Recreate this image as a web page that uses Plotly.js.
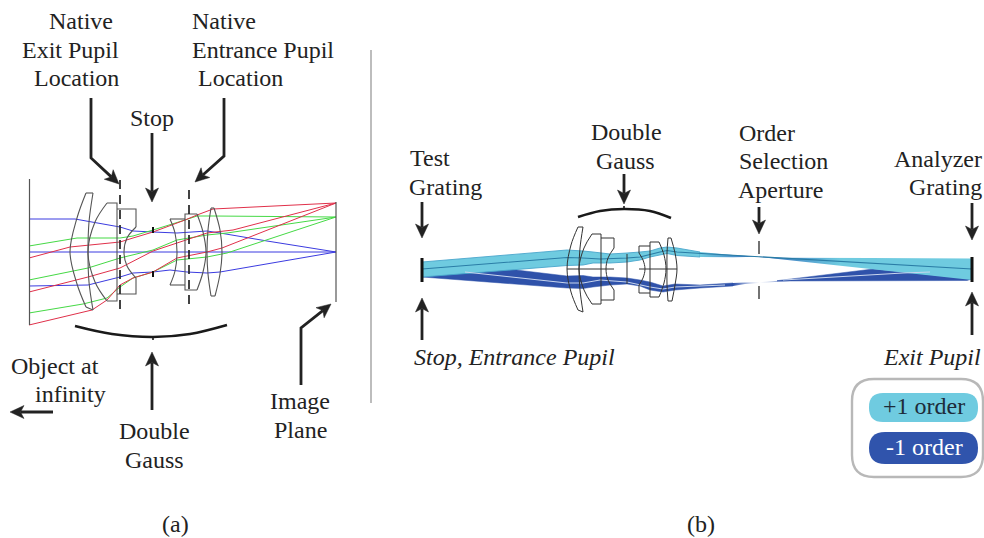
<!DOCTYPE html>
<html><head><meta charset="utf-8">
<script src="https://cdn.plot.ly/plotly-3.0.1.min.js"></script>
<style>html,body{margin:0;padding:0;background:#fff}#c{width:984px;height:538px}</style>
</head><body><div id="c"></div>
<script>
// ---- panel (a): rays, [x...],[y...]
const raysBlue = [
 [[29,75,120,133,153,177,207,220,267,336],[219,219,227,231,232,233,231,233,241,252]],
 [[29,336],[252,252]],
 [[29,88,120,133,153,170,187,207,220,336],[286,285,277,273,272,270,272,273,272,252]]
];
const raysGreen = [
 [[29,77,120,133,153,185,197,213,336],[246,238,238,236,230,220,216,216,217]],
 [[29,88,120,153,177,207,227,336],[280,268,258,250,240,235,233,217]],
 [[29,83,107,120,133,153,177,207,227,336],[313,304,298,287,278,272,260,257,253,217]]
];
const raysRed = [
 [[29,70,120,133,153,185,197,213,336],[258,247,242,238,232,220,215,209,203]],
 [[29,88,120,153,177,207,233,336],[292,277,268,251,243,233,230,203]],
 [[29,92,107,120,133,153,177,207,222,336],[325,310,300,285,278,272,258,252,248,203]]
];
const lensCurvesA = [
 [[86,77,70,77,86],[193,218,252,284,307]],
 [[93,89,88,89,93],[193,222,252,282,310]],
 [[107,95,88,95,107],[203,222,252,282,301]],
 [[136,127,124,127,136],[227,238,252,266,278]],
 [[170,175,177,175,170],[219,233,252,271,285]],
 [[197,203,206,203,197],[214,232,252,272,290]],
 [[211,208,207,208,211],[208,230,252,274,296]],
 [[214,220,222,220,215],[208,230,252,274,296]]
];
const lensEdgesA = [
 [[86,93],[193,193]],
 [[86,93],[307,310]],
 [[107,117,117,107],[203,203,301,301]],
 [[117,136,136],[209,209,227]],
 [[136,136,117],[278,294,294]],
 [[170,185],[219,219]],
 [[170,185],[285,285]],
 [[197,185,185,197],[214,214,290,290]],
 [[211,214],[208,208]],
 [[211,215],[296,296]]
];
const planesA = [ [[29.5,29.5],[179,325]], [[336,336],[202,302]] ];
const stopMarksA = [ [[153,153],[227,233]], [[153,153],[271,277]] ];
const dashedA = [ [[120,120],[180,310]], [[189,189],[190,310]] ];

// ---- panel (b): beam outlines
const beamDark = [
 [422,465,508,567,583,593,610,627,640,650,663,675,700,733,733,700,675,663,650,640,627,610,593,583,567,422],
 [277,272,269,276,275.5,277,277,278,280,282,286,284,285,283,286,288,290,292,290,286,284,285,287,288.5,288,277]
];
const beamDarkFade = [
 [733,745,759,775,790,790,775,759,745,733],
 [283,282.5,282.3,281,280,281,282,283,284,286]
];
const beamDarkRight = [[777,873,972,967,777],[280.7,269,279,280.5,281]];
const beamLight = [
 [422,567,583,593,610,627,640,650,660,667,677,700,700,677,667,650,640,627,610,593,583,567,422],
 [262,250,251,252,254,253,252,251,248,247,248,252,257,255.5,253.5,257,260,262,263,263,265,265.5,277]
];
const beamLightTail = [[700,733,759,733,700],[252,255,256.7,257.3,257]];
const beamLightRight = [[759,783,870,972,972,759],[256.7,257.7,258,258.5,280,256.9]];
const lineCenterLight = [
 [422,567,583,600,627,640,660,667,677,710,759,972],
 [269,257.5,258,259,258,257,252,250.5,252,254,256.7,269]
];
const lineCenterDark = [
 [465,567,583,600,627,650,663,675,700,725],
 [272,283,283,280,282,287,289,287,286,285]
];
const lineCenterDarkRight = [[783,903,930],[280,273,272]];
const lensCurvesB = [
 [[578,571,567,571,578],[227,245,269,292,310]],
 [[583,580,579,580,583],[227,248,269,290,312]],
 [[592,584,579,584,592],[234,248,269,290,304]],
 [[614,608,606,608,614],[248,258,269,280,290]],
 [[639,643,645,643,639],[253,260,269,278,285]],
 [[659,664,666,664,659],[242,255,269,283,297]],
 [[668,667,667,667,668],[238,253,269,285,301]],
 [[671,675,677,675,672],[238,253,269,285,301]]
];
const lensEdgesB = [
 [[578,583],[227,227]],
 [[578,583],[310,312]],
 [[592,601,601,592],[234,234,304,304]],
 [[601,614,614],[238,238,248]],
 [[614,614,601],[290,300,300]],
 [[639,650],[246,246]],
 [[639,639],[246,253]],
 [[639,639,650],[285,293,293]],
 [[659,650,650,659],[242,242,297,297]],
 [[668,671],[238,238]],
 [[668,672],[301,301]],
 [[567,614],[269,269]],
 [[639,677],[269,269]],
 [[627,627],[254,284]]
];
const gratings = [ [[422,422],[258,282]], [[972,972],[257,282]] ];
const apertureDashes = [ [[759,759],[241,254]], [[759,759],[286,299]] ];
const divider = [[371,371],[50,403]];

// ---- braces and arrows
const braces = [
 [[75,112,153,190,227],[326,334,337,334,325]],
 [[578,600,624,650,671],[217,211,209,211,218]]
];
const braceTips = [ [[153,153],[337,340]], [[624,624],[209,206]] ];
const arrowPaths = [
 [[91,91,119],[98,158,184]],
 [[224,224,195],[98,156,182]],
 [[152,152],[133,202]],
 [[152,152],[410,352]],
 [[301,301,331],[385,328,304]],
 [[53,10],[412,412]],
 [[422,422],[202,238]],
 [[422,422],[340,298]],
 [[624,624],[174,204]],
 [[759,759],[207,234]],
 [[972,972],[203,240]],
 [[972,972],[335,292]]
];

// ---- text
const labelText = ["Native","Exit Pupil","Location","Stop","Native","Entrance Pupil","Location",
 "Object at","infinity","Double","Gauss","Image","Plane","(a)",
 "Test","Grating","Double","Gauss","Order","Selection","Aperture","Analyzer","Grating","(b)"];
const labelX = [81,70,76,152,224,263,240,55,70,154,154,300,300,175,
 430,445,626,625,767,783,780,938,945,701];
const labelY = [21,50,78,118,21,50,78,366,394,431,460,401,430,524,
 158,187,132,161,133,161,190,159,187,524];
const italicText = ["Stop, Entrance Pupil","Exit Pupil"];
const italicX = [514,932];
const italicY = [357,357];
const legendText = ["+1 order","-1 order"];
const legendX = [924,924];
const legendY = [406,447];

const colLight="#6fcbe0", colDark="#2f52aa", colLine="#2a7da6", colEdge="#4aa6cc", colTip="#2f66b8";
const FONT="Liberation Serif";
const traces=[];
function ln(p,color,width,extra){
  const l=Object.assign({color:color,width:width,simplify:false},extra||{});
  traces.push({type:"scatter",mode:"lines",x:p[0],y:p[1],line:l,hoverinfo:"skip",showlegend:false});
}
function fill(p,color,edge,grad){
  const t={type:"scatter",mode:"lines",x:p[0],y:p[1],fill:"toself",fillcolor:color,
    line:{color:edge||color,width:edge?0.9:0.5,simplify:false},hoverinfo:"skip",showlegend:false};
  if(grad) t.fillgradient=grad;
  traces.push(t);
}
ln(divider,"#bdbdbd",2);
raysBlue.forEach(p=>ln(p,"#3b3be0",1));
raysGreen.forEach(p=>ln(p,"#45d945",1));
raysRed.forEach(p=>ln(p,"#e0304a",1));
planesA.forEach(p=>ln(p,"#555",1.2));
lensCurvesA.forEach(p=>ln(p,"#555",1.1,{shape:"spline"}));
lensEdgesA.forEach(p=>ln(p,"#555",1.1));
stopMarksA.forEach(p=>ln(p,"#111",2));
dashedA.forEach(p=>ln(p,"#222",1.7,{dash:"9px,6px"}));

fill(beamDark,colDark);
fill(beamDarkFade,colDark,"rgba(0,0,0,0)",{type:"horizontal",start:733,stop:790,
    colorscale:[[0,colDark],[0.3,"#b9c6e6"],[0.47,"#ffffff"],[0.7,"#b9c6e6"],[1,colDark]]});
fill(beamDarkRight,colDark);
fill(beamLight,colLight,colEdge);
fill(beamLightTail,colLight,"rgba(0,0,0,0)",{type:"horizontal",start:700,stop:759,
    colorscale:[[0,colLight],[1,colTip]]});
fill(beamLightRight,colLight,"rgba(0,0,0,0)",{type:"horizontal",start:759,stop:840,
    colorscale:[[0,colTip],[1,colLight]]});
ln(lineCenterLight,colLine,1.1);
ln(lineCenterDark,"#c9d6ee",1);
ln(lineCenterDarkRight,"#c9d6ee",1);
lensCurvesB.forEach(p=>ln(p,"#333",1,{shape:"spline"}));
lensEdgesB.forEach(p=>ln(p,"#333",1));
gratings.forEach(p=>ln(p,"#111",3));
apertureDashes.forEach(p=>ln(p,"#444",1.5));

braces.forEach(p=>ln(p,"#1a1a1a",2.6,{shape:"spline"}));
braceTips.forEach(p=>ln(p,"#1a1a1a",1.6));

// arrows: the shaft stops inside the head, the head is a notched polygon at the path's end
arrowPaths.forEach(p=>{
  const xs=p[0],ys=p[1],n=xs.length-1;
  const dx=xs[n]-xs[n-1],dy=ys[n]-ys[n-1],d=Math.hypot(dx,dy),ux=dx/d,uy=dy/d;
  const L=14,W=6.5,N=3.5;
  const bx=xs[n]-ux*L,by=ys[n]-uy*L;
  const nx=bx+ux*N,ny=by+uy*N;
  ln([xs.slice(0,n).concat([nx]),ys.slice(0,n).concat([ny])],"#222",2.8);
  fill([[xs[n],bx-uy*W,nx,bx+uy*W,xs[n]],[ys[n],by+ux*W,ny,by-ux*W,ys[n]]],"#222");
});

const annotations=[];
function addText(list,xs,ys,opt){
  list.forEach((t,i)=>annotations.push({x:xs[i],y:ys[i],xref:"x",yref:"y",text:t,showarrow:false,
    xanchor:"center",yanchor:"middle",font:{family:FONT,size:opt.size,color:opt.colors?opt.colors[i]:"#222"}}));
}
addText(labelText,labelX,labelY,{size:24});
addText(italicText.map(t=>"<i>"+t+"</i>"),italicX,italicY,{size:24});
addText(legendText,legendX,legendY,{size:24,colors:["#1d2b3a","#ffffff"]});

function rr(x0,y0,x1,y1,r){
  return `M${x0+r},${y0} L${x1-r},${y0} Q${x1},${y0} ${x1},${y0+r} L${x1},${y1-r} Q${x1},${y1} ${x1-r},${y1} L${x0+r},${y1} Q${x0},${y1} ${x0},${y1-r} L${x0},${y0+r} Q${x0},${y0} ${x0+r},${y0} Z`;
}
const shapes=[
 {type:"path",path:rr(852,379,983,477,22),line:{color:"#b8b8b8",width:2.4},fillcolor:"#fff",layer:"below"},
 {type:"path",path:rr(869,393,978,422,14),line:{width:0},fillcolor:colLight,layer:"below"},
 {type:"path",path:rr(869,432,978,464,16),line:{width:0},fillcolor:"#3054ac",layer:"below"}
];
const layout={width:984,height:538,margin:{l:0,r:0,t:0,b:0},paper_bgcolor:"#fff",plot_bgcolor:"#fff",
 xaxis:{range:[0,984],visible:false,fixedrange:true},
 yaxis:{range:[538,0],visible:false,fixedrange:true},
 showlegend:false,annotations:annotations,shapes:shapes};
Plotly.newPlot("c",traces,layout,{displayModeBar:false,staticPlot:true});
</script></body></html>
